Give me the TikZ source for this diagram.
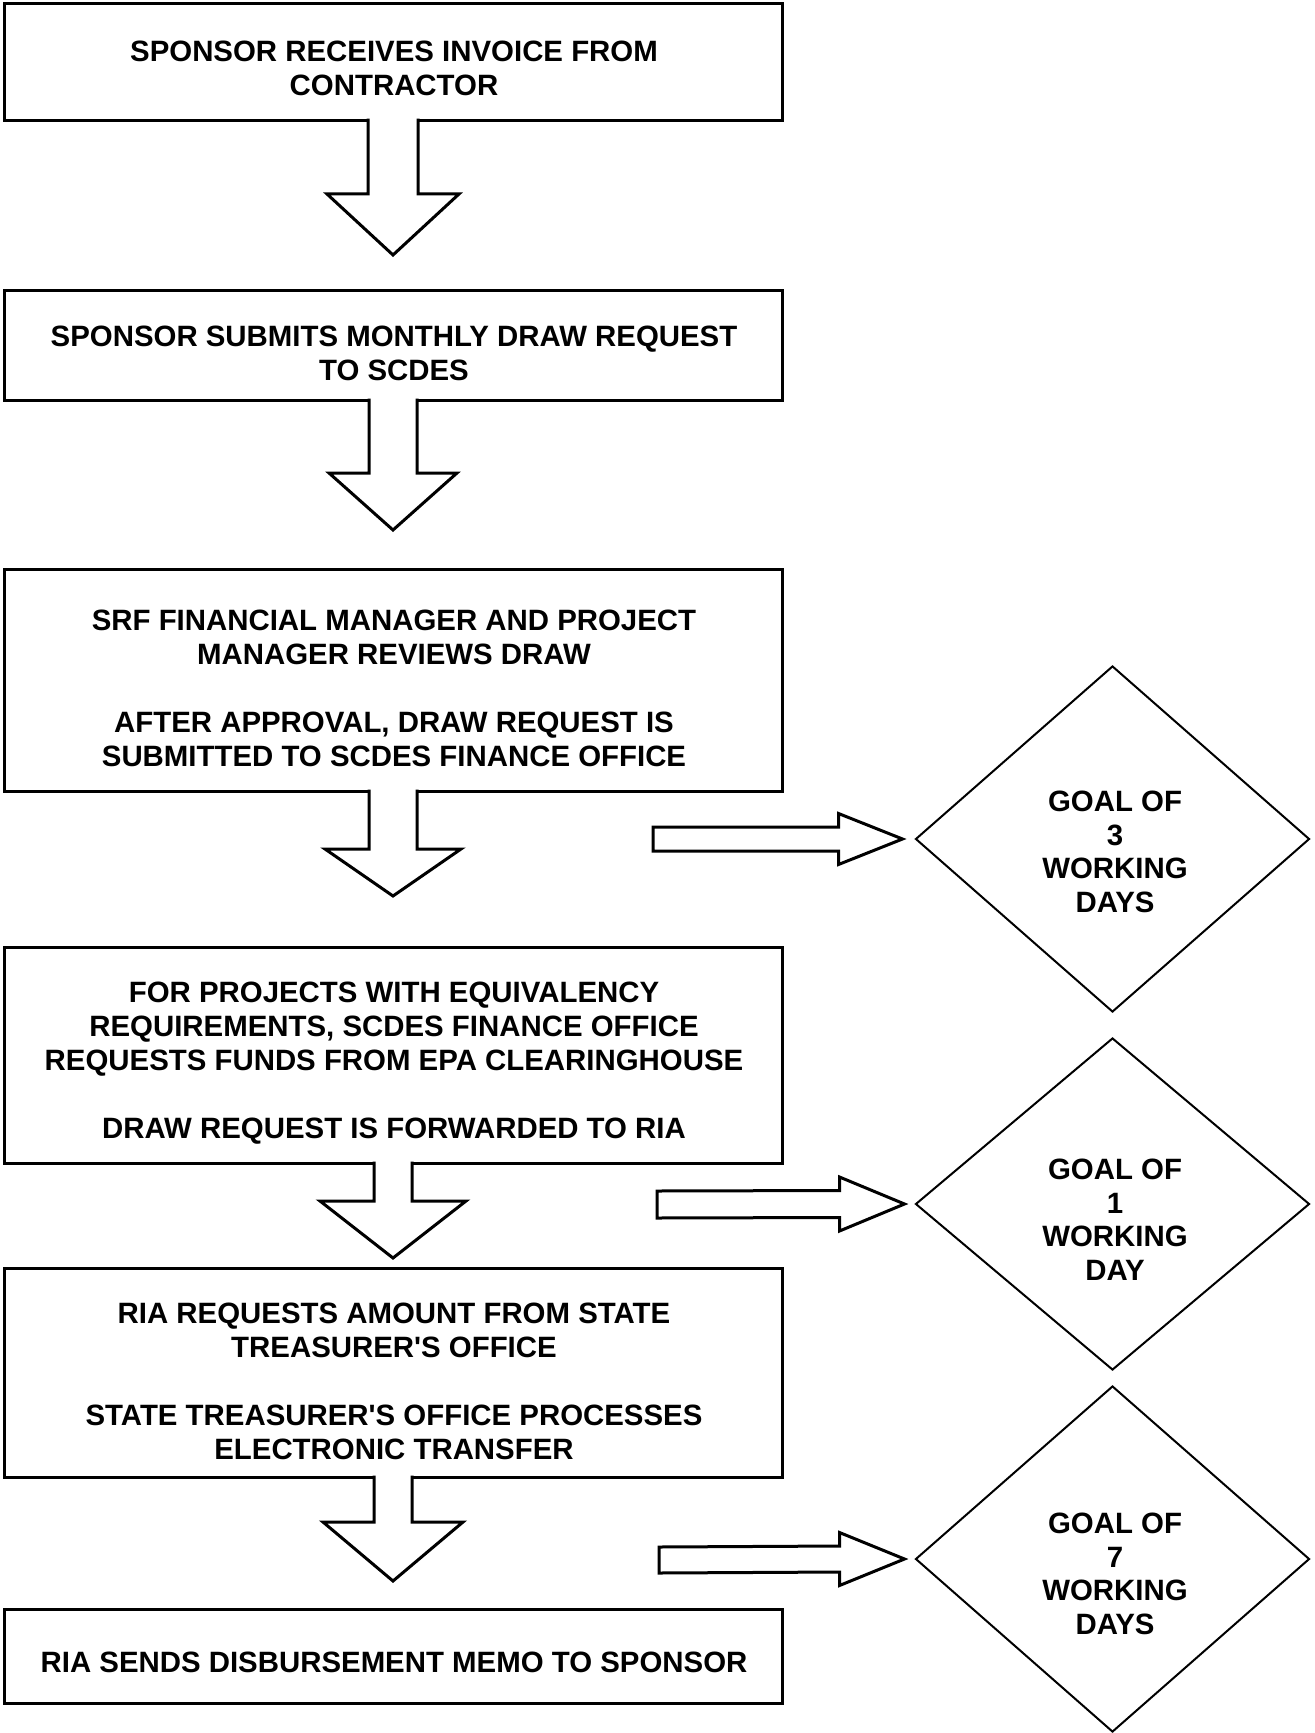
\documentclass[tikz,border=0pt]{standalone}
\usepackage{fontspec}
\setmainfont{Liberation Sans}
\usetikzlibrary{calc,shapes.geometric}
% block arrow pointing down: from, tip, shaft half width, head half width, head length
\newcommand{\flowdown}[5]{%
	\draw[blockarrow] ($(#1)+(-#3,-3)$) -- ($(#2)+(-#3,-#5)$) -- ++(#3-#4,0) -- (#2)
		-- ($(#2)+(#4,-#5)$) -- ++(#3-#4,0) -- ($(#1)+(#3,-3)$);}
% block arrow pointing right: tail, tip, shaft half width, head half width, head length
\newcommand{\flowright}[5]{%
	\draw[blockarrow] (#2) -- ++(-#5,-#4) -- ++(0,#4-#3) -- ($(#1)+(0,-#3)$)
		-- ($(#1)+(0,#3)$) -- ($(#2)+(-#5,#3)$) -- ++(0,#4-#3) -- cycle;}
\begin{document}
\begin{tikzpicture}[x=0.5pt,y=-0.5pt,
	stepbox/.style={draw,line width=1.5pt,minimum width=389pt,inner sep=0pt},
	goalbox/.style={draw,diamond,line width=1pt,minimum width=197pt,inner sep=0pt},
	boxtext/.style={align=center,inner sep=0pt,font=\fontsize{14.7pt}{17pt}\selectfont\bfseries},
	goaltext/.style={align=center,inner sep=0pt,font=\fontsize{14.7pt}{16.75pt}\selectfont\bfseries},
	blockarrow/.style={draw,fill=white,line width=1.5pt,line join=miter}]
	\useasboundingbox (0,0) rectangle (1315,1733);
	% steps
	\node[stepbox,minimum height=58.25pt] (b1) at (393,62) {};
	\node[stepbox,minimum height=54.5pt] (b2) at (393,345.5) {};
	\node[stepbox,minimum height=111pt] (b3) at (393,680) {};
	\node[stepbox,minimum height=108pt] (b4) at (393,1055) {};
	\node[stepbox,minimum height=104.5pt] (b5) at (393,1372.5) {};
	\node[stepbox,minimum height=47pt] (b6) at (393,1656) {};
	\node[boxtext] (s1) at (394,68) {SPONSOR RECEIVES INVOICE FROM\\CONTRACTOR};
	\node[boxtext] (s2) at (394,353) {SPONSOR SUBMITS MONTHLY DRAW REQUEST\\TO SCDES};
	\node[boxtext] (s3) at (394,688) {SRF FINANCIAL MANAGER AND PROJECT\\MANAGER REVIEWS DRAW\\[17pt]AFTER APPROVAL, DRAW REQUEST IS\\SUBMITTED TO SCDES FINANCE OFFICE};
	\node[boxtext] (s4) at (394,1063) {FOR PROJECTS WITH EQUIVALENCY\\REQUIREMENTS, SCDES FINANCE OFFICE\\REQUESTS FUNDS FROM EPA CLEARINGHOUSE\\[17pt]DRAW REQUEST IS FORWARDED TO RIA};
	\node[boxtext] (s5) at (394,1381) {RIA REQUESTS AMOUNT FROM STATE\\TREASURER\textquotesingle S OFFICE\\[17pt]STATE TREASURER\textquotesingle S OFFICE PROCESSES\\ELECTRONIC TRANSFER};
	\node[boxtext] (s6) at (394,1662) {RIA SENDS DISBURSEMENT MEMO TO SPONSOR};
	% goals
	\node[goalbox,minimum height=173pt] (d1) at (1112.5,839) {};
	\node[goalbox,minimum height=166pt] (d2) at (1112.5,1204) {};
	\node[goalbox,minimum height=173pt] (d3) at (1112.5,1559) {};
	\node[goaltext] (g1) at (1115,852) {GOAL OF\\3\\WORKING\\DAYS};
	\node[goaltext] (g2) at (1115,1219.5) {GOAL OF\\1\\WORKING\\DAY};
	\node[goaltext] (g3) at (1115,1574) {GOAL OF\\7\\WORKING\\DAYS};
	% arrows
	\coordinate (t1) at (393,255);
	\coordinate (t2) at (393,530);
	\coordinate (t3) at (393,896);
	\coordinate (t4) at (393,1258);
	\coordinate (t5) at (393,1581);
	\flowdown{b1.south}{t1}{25}{66}{61}
	\flowdown{b2.south}{t2}{24}{64}{57}
	\flowdown{b3.south}{t3}{24}{68}{47}
	\flowdown{b4.south}{t4}{19}{73}{57}
	\flowdown{b5.south}{t5}{19}{70}{59}
	\coordinate (r1) at (653,839);
	\coordinate (r2) at (657,1204.5);
	\coordinate (r3) at (659,1560);
	\flowright{r1}{$(d1.west)+(-12,0)$}{12}{25.5}{64}
	\flowright{r2}{$(d2.west)+(-10,0)$}{13.5}{27}{65}
	\flowright{r3}{$(d3.west)+(-10,0)$}{13}{26.5}{65}
\end{tikzpicture}
\end{document}
